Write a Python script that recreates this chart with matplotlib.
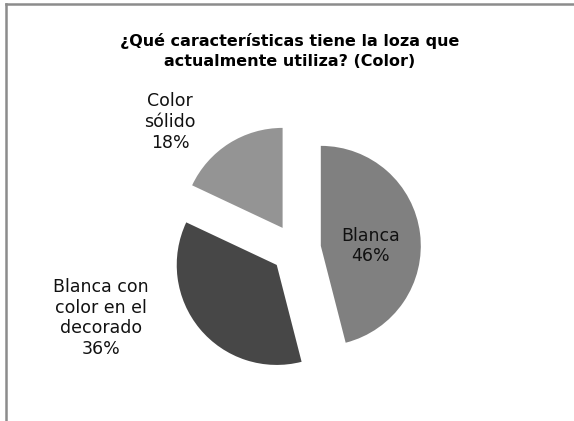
import matplotlib
matplotlib.use("Agg")
import matplotlib.pyplot as plt
from matplotlib.lines import Line2D

categories = ["Blanca", "Blanca con\ncolor en el\ndecorado", "Color\nsólido"]
values = [46, 36, 18]
colors = ["#808080", "#474747", "#949494"]
title = "¿Qué características tiene la loza que\nactualmente utiliza? (Color)"

W, H = 574, 421
R = 100
fig = plt.figure(figsize=(W / 100, H / 100), dpi=100)
ax = fig.add_axes([0, 0, 1, 1])

ax.pie(values, colors=colors, startangle=90, counterclock=False,
       center=(296, H - 249), radius=R, explode=[0.25 * R] * 3,
       wedgeprops=dict(linewidth=0))
ax.set_xlim(0, W)
ax.set_ylim(0, H)
ax.set_aspect("equal")
ax.axis("off")

font = ["DejaVu Sans"]
label_pos = [(371, 246), (101, 318), (170, 122)]
for cat, v, (x, y) in zip(categories, values, label_pos):
    ax.text(x, H - y, f"{cat}\n{v}%", ha="center", va="center",
            fontsize=12.5, family=font, linespacing=1.2, color="#111111")

ax.text(290, H - 51, title, ha="center", va="center", fontsize=11.5,
        fontweight="bold", family=font, linespacing=1.45)

# chart frame (top and left edges visible)
fig.add_artist(Line2D([6 / W, 1], [1 - 4 / H, 1 - 4 / H], color="#8c8c8c", lw=1.8,
                      transform=fig.transFigure))
fig.add_artist(Line2D([6 / W, 6 / W], [0, 1 - 4 / H], color="#8c8c8c", lw=1.8,
                      transform=fig.transFigure))

fig.savefig("out.png", dpi=100, facecolor="white")
